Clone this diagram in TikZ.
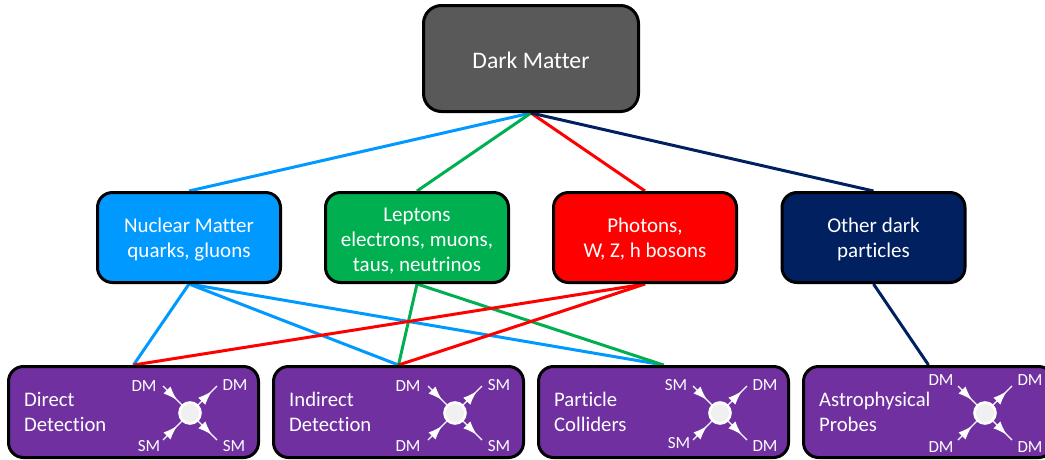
\documentclass[tikz,border=0pt]{standalone}
\usepackage{fontspec}
\setmainfont[Ligatures=NoCommon]{Carlito}
\usetikzlibrary{backgrounds,decorations.markings,arrows.meta}
\definecolor{cblue}{HTML}{0099FF}
\definecolor{cgreen}{HTML}{00B050}
\definecolor{cred}{HTML}{FF0000}
\definecolor{cnavy}{HTML}{002060}
\definecolor{cpurple}{HTML}{7030A0}
\definecolor{cgrey}{HTML}{595959}
\tikzset{
  x=1pt,y=-1pt,
  box/.style={draw=black,line width=3pt,rounded corners=15pt,text=white,align=center,inner sep=0pt,font=\fontsize{21}{25}\selectfont},
  topbox/.style={box,fill=cgrey,minimum width=215pt,minimum height=106pt,rounded corners=18pt,font=\fontsize{23.7}{28}\selectfont},
  midbox/.style={box,minimum width=183pt,minimum height=90pt},
  lowbox/.style={box,fill=cpurple,minimum width=250pt,minimum height=91pt},
  lowtext/.style={text=white,align=left,anchor=west,inner sep=0pt,font=\fontsize{20.7}{25}\selectfont},
  conn/.style={line width=3pt},
  dmlabel/.style={text=white,inner sep=0pt,font=\fontsize{17}{18}\selectfont},
  spoke/.style={draw=white,line width=1.2pt,postaction={decorate},decoration={markings,mark=at position #1 with {\arrow[white]{Latex[length=14pt,width=10pt]}}}},
  vertex/.style={circle,fill=black!6,draw=white,line width=2.6pt,minimum size=21pt,inner sep=0pt},
}
\newcommand{\feyn}[2]{%
  \node[vertex] (#1v) at (#2,413) {};
  \coordinate (#1a) at ([shift={(-27,-27)}]#1v.center);
  \coordinate (#1b) at ([shift={(27,-27)}]#1v.center);
  \coordinate (#1c) at ([shift={(-27,27)}]#1v.center);
  \coordinate (#1d) at ([shift={(27,27)}]#1v.center);
  \draw[spoke=0.75] (#1a) -- (#1v);
  \draw[spoke=0.72] (#1v) -- (#1b);
  \draw[spoke=0.75] (#1c) -- (#1v);
  \draw[spoke=0.72] (#1v) -- (#1d);
}
\newcommand{\flab}[4]{\node[dmlabel] (#1) at ([shift={(#2)}]#3.center) {#4};}
\newcommand{\lift}[1]{\rule{0pt}{#1}}
\begin{document}
\begin{tikzpicture}
\useasboundingbox[clip] (0,0) rectangle (1045,459);
\node[topbox] (dm) at (531,58.5) {\lift{20pt}Dark Matter};
\node[midbox,fill=cblue] (nuc) at (189,237.5) {\lift{18pt}Nuclear Matter\\quarks, gluons};
\node[midbox,fill=cgreen] (lep) at (417,237.5) {\lift{20pt}Leptons\\electrons, muons,\\taus, neutrinos};
\node[midbox,fill=cred] (pho) at (645,237.5) {\lift{18pt}Photons,\\W, Z, h bosons};
\node[midbox,fill=cnavy] (oth) at (873.5,237.5) {\lift{18pt}Other dark\\particles};
\node[lowbox] (dir) at (133.5,412) {};
\node[lowbox] (ind) at (398.5,412) {};
\node[lowbox] (col) at (663.5,412) {};
\node[lowbox] (ast) at (928.5,412) {};
\node[lowtext] (dirt) at (24,412) {Direct\\Detection};
\node[lowtext] (indt) at (289,412) {Indirect\\Detection};
\node[lowtext] (colt) at (554,412) {Particle\\Colliders};
\node[lowtext] (astt) at (819,412) {Astrophysical\\Probes};
\feyn{p}{190}
\feyn{q}{455}
\feyn{r}{720}
\feyn{s}{985}
\flab{pla}{-46,-27}{pv}{DM}
\flab{plb}{45,-28}{pv}{DM}
\flab{plc}{-41,33}{pv}{SM}
\flab{pld}{44,33}{pv}{SM}
\flab{qla}{-47,-27}{qv}{DM}
\flab{qlb}{44,-28}{qv}{SM}
\flab{qlc}{-47,33}{qv}{DM}
\flab{qld}{44,33}{qv}{SM}
\flab{rla}{-44,-28}{rv}{SM}
\flab{rlb}{45,-28}{rv}{DM}
\flab{rlc}{-41,30}{rv}{SM}
\flab{rld}{45,33}{rv}{DM}
\flab{sla}{-44,-33}{sv}{DM}
\flab{slb}{45,-33}{sv}{DM}
\flab{slc}{-44,34}{sv}{DM}
\flab{sld}{45,34}{sv}{DM}
\begin{scope}[on background layer]
\draw[conn,cblue] (dm.south) -- (nuc.north);
\draw[conn,cgreen] (dm.south) -- (lep.north);
\draw[conn,cred] (dm.south) -- (pho.north);
\draw[conn,cnavy] (dm.south) -- (oth.north);
\draw[conn,cblue] (nuc.south) -- (dir.north);
\draw[conn,cblue] (nuc.south) -- (ind.north);
\draw[conn,cblue] (nuc.south) -- (col.north);
\draw[conn,cgreen] (lep.south) -- (ind.north);
\draw[conn,cgreen] (lep.south) -- (col.north);
\draw[conn,cred] (pho.south) -- (dir.north);
\draw[conn,cred] (pho.south) -- (ind.north);
\draw[conn,cnavy] (oth.south) -- (ast.north);
\end{scope}
\end{tikzpicture}
\end{document}
